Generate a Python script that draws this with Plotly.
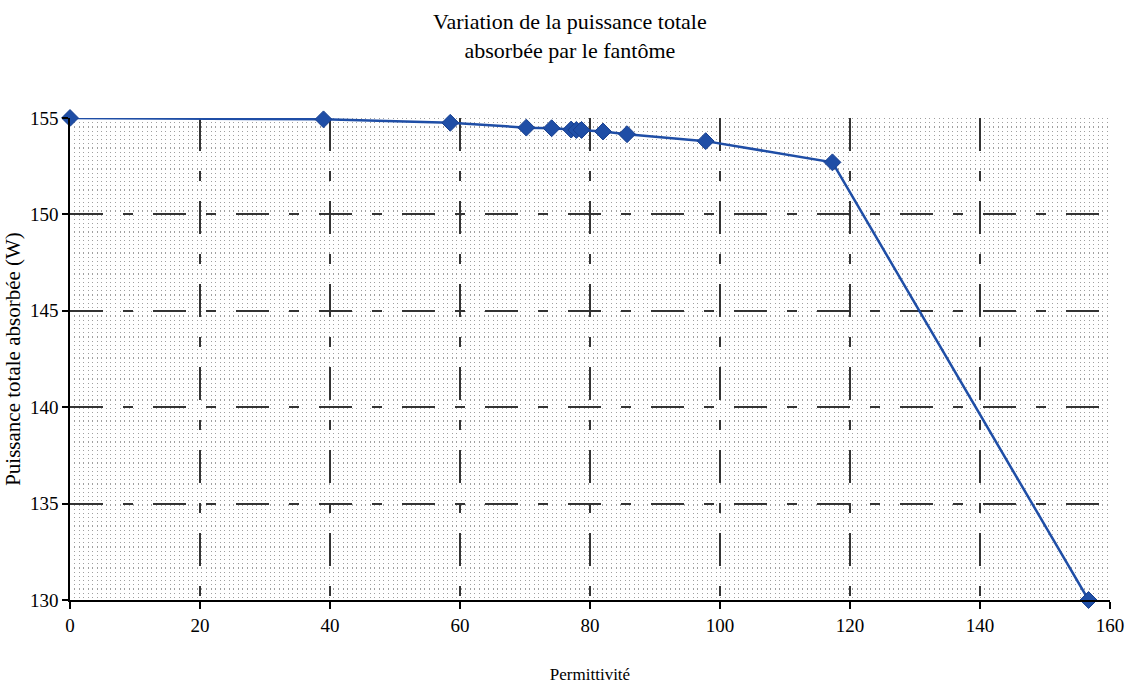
import plotly.graph_objects as go

permittivite = [0, 39, 58.5, 70.2, 74.1, 77.1, 77.9, 78.7, 82.0, 85.7, 97.8, 117.3, 156.7]
puissance = [155.0, 154.93, 154.75, 154.5, 154.47, 154.4, 154.38, 154.38, 154.3, 154.16, 153.8, 152.7, 130.0]

x_ticks = [0, 20, 40, 60, 80, 100, 120, 140, 160]
y_ticks = [130, 135, 140, 145, 150, 155]

FONT = "'Liberation Serif', 'Times New Roman', 'DejaVu Serif', serif"

fig = go.Figure()
fig.add_trace(go.Scatter(
    x=permittivite, y=puissance, mode="lines+markers",
    line=dict(color="#1f4ea6", width=2.5),
    marker=dict(symbol="diamond", size=13, color="#1f4ea6",
                line=dict(color="#173f8f", width=1)),
    showlegend=False, cliponaxis=False,
))

fig.update_layout(
    width=1133, height=689,
    margin=dict(l=70, r=23, t=118, b=89),
    paper_bgcolor="white", plot_bgcolor="white",
    font=dict(family=FONT, color="black"),
    title=dict(text="Variation de la puissance totale<br>absorbée par le fantôme",
               x=0.503, xanchor="center", y=0.958, yanchor="top",
               font=dict(family=FONT, size=22, color="black")),
)

fig.update_xaxes(
    range=[0, 160], tickvals=x_ticks, ticktext=[str(v) for v in x_ticks],
    showgrid=True, gridcolor="#333333", gridwidth=1.5, griddash="33px,20px,10px,20px",
    minor=dict(dtick=0.7, tick0=0, showgrid=True, gridcolor="#a0a0a0", gridwidth=1.2, griddash="1.2px,3px"),
    showline=True, linecolor="black", linewidth=1.5, mirror=False,
    ticks="outside", ticklen=7, tickcolor="black", tickwidth=1.5,
    tickfont=dict(family=FONT, size=19), zeroline=False, automargin=False,
    title=dict(text="Permittivité", font=dict(family=FONT, size=17), standoff=34),
)
fig.update_yaxes(
    range=[130, 155], tickvals=y_ticks, ticktext=[str(v) for v in y_ticks],
    showgrid=True, gridcolor="#333333", gridwidth=1.5, griddash="33px,20px,10px,20px",
    showline=True, linecolor="black", linewidth=1.5, mirror=False,
    ticks="outside", ticklen=6, tickcolor="black", tickwidth=1.5,
    tickfont=dict(family=FONT, size=19), zeroline=False, automargin=False,
    title=dict(text="Puissance totale absorbée (W)", font=dict(family=FONT, size=21), standoff=4),
)

fig.write_html("out.html", config={"displayModeBar": False},
               post_script="document.body.style.margin='0';")
